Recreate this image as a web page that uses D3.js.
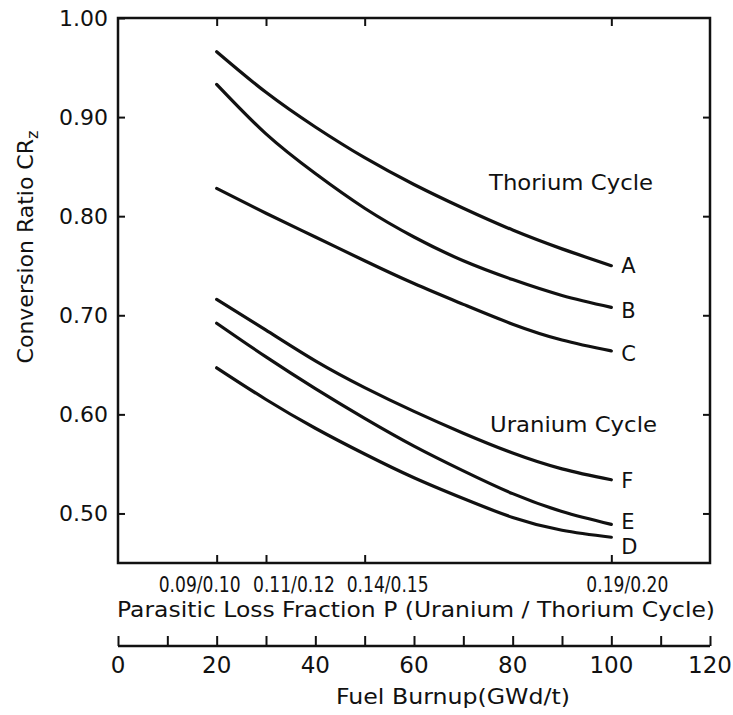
<!DOCTYPE html>
<html>
<head>
<meta charset="utf-8">
<script src="https://cdn.jsdelivr.net/npm/d3@7"></script>
<style>
  body { margin: 0; background: #fff; }
  text { font-family: "DejaVu Sans", sans-serif; fill: #111; }
</style>
</head>
<body>
<svg id="chart" width="733" height="715"></svg>
<script>
// fuel burnup (GWd/t) where the curves were read
const burnup = [20, 30, 40, 50, 60, 70, 80, 90, 100];

// conversion ratio CRz, thorium cycle
const curveA = [0.966, 0.925, 0.890, 0.859, 0.832, 0.808, 0.786, 0.767, 0.750];
const curveB = [0.933, 0.883, 0.843, 0.808, 0.779, 0.755, 0.736, 0.720, 0.708];
const curveC = [0.828, 0.803, 0.779, 0.755, 0.732, 0.711, 0.691, 0.675, 0.664];
// uranium cycle
const curveD = [0.647, 0.615, 0.586, 0.560, 0.536, 0.515, 0.496, 0.483, 0.476];
const curveE = [0.692, 0.658, 0.626, 0.596, 0.568, 0.543, 0.520, 0.502, 0.489];
const curveF = [0.716, 0.685, 0.654, 0.627, 0.603, 0.581, 0.561, 0.545, 0.534];

const curveNames = ["A", "B", "C", "D", "E", "F"];
const curveValues = [curveA, curveB, curveC, curveD, curveE, curveF];

const yTicks = [0.50, 0.60, 0.70, 0.80, 0.90, 1.00];
const burnupTicks = [0, 10, 20, 30, 40, 50, 60, 70, 80, 90, 100, 110, 120];
const burnupLabels = [0, 20, 40, 60, 80, 100, 120];

// parasitic loss fraction ticks sit on burnup positions
const pTickAt = [20, 30, 50, 100];
const pTickLabels = ["0.09/0.10", "0.11/0.12", "0.14/0.15", "0.19/0.20"];

// layout tweaks (hand lettering in the original is shifted to avoid overlap)
const pLabelShift = [-17, 28, 23, 16];
const endLabelShift = { A: 0, B: 3, C: 2, D: 9, E: -3, F: 1 };

const svg = d3.select("#chart");
const plotLeft = 118, plotRight = 710, plotTop = 18, plotBottom = 563;

const x = d3.scaleLinear().domain([0, 120]).range([plotLeft, plotRight]);
const y = d3.scaleLinear().domain([0.45, 1.00]).range([plotBottom, plotTop]);

// frame
svg.append("rect")
    .attr("x", plotLeft).attr("y", plotTop)
    .attr("width", plotRight - plotLeft).attr("height", plotBottom - plotTop)
    .attr("fill", "none").attr("stroke", "#111").attr("stroke-width", 2.5);

function styleAxis(g) {
    g.select(".domain").remove();
    g.selectAll(".tick line").attr("stroke", "#111").attr("stroke-width", 2);
}

// left axis, ticks inward
svg.append("g")
    .attr("transform", `translate(${plotLeft},0)`)
    .call(d3.axisLeft(y).tickValues(yTicks).tickFormat(d3.format(".2f"))
        .tickSize(-7).tickPadding(10))
    .call(styleAxis)
    .call(g => g.selectAll(".tick text")
        .attr("font-size", 22).attr("font-family", "DejaVu Sans").attr("fill", "#111"));

// right axis, ticks inward, no labels
svg.append("g")
    .attr("transform", `translate(${plotRight},0)`)
    .call(d3.axisRight(y).tickValues(yTicks.filter(d => d < 1)).tickFormat("").tickSize(-7))
    .call(styleAxis);

// top and bottom ticks at the P positions
svg.append("g")
    .attr("transform", `translate(0,${plotTop})`)
    .call(d3.axisTop(x).tickValues(pTickAt).tickFormat("").tickSize(-8))
    .call(styleAxis);

svg.append("g")
    .attr("transform", `translate(0,${plotBottom})`)
    .call(d3.axisBottom(x).tickValues(pTickAt).tickFormat("").tickSize(-8))
    .call(styleAxis);

svg.append("g")
    .selectAll("text")
    .data(pTickLabels)
    .join("text")
    .attr("x", (d, i) => x(pTickAt[i]) + pLabelShift[i])
    .attr("y", 592)
    .attr("text-anchor", "middle")
    .attr("font-size", 21)
    .attr("textLength", 82)
    .attr("lengthAdjust", "spacingAndGlyphs")
    .text(d => d);

svg.append("text")
    .attr("x", (plotLeft + plotRight) / 2 + 2)
    .attr("y", 617)
    .attr("text-anchor", "middle")
    .attr("font-size", 22)
    .attr("textLength", 598)
    .attr("lengthAdjust", "spacingAndGlyphs")
    .text("Parasitic Loss Fraction P (Uranium / Thorium Cycle)");

// fuel burnup axis
const burnupY = 646;
svg.append("line")
    .attr("x1", x(0)).attr("x2", x(120))
    .attr("y1", burnupY).attr("y2", burnupY)
    .attr("stroke", "#111").attr("stroke-width", 2.5);

svg.append("g")
    .attr("transform", `translate(0,${burnupY})`)
    .call(d3.axisBottom(x).tickValues(burnupTicks).tickFormat("").tickSize(-10))
    .call(styleAxis);

svg.append("g")
    .selectAll("text")
    .data(burnupLabels)
    .join("text")
    .attr("x", d => x(d))
    .attr("y", 673)
    .attr("text-anchor", "middle")
    .attr("font-size", 23)
    .text(d => d);

svg.append("text")
    .attr("x", 453)
    .attr("y", 704)
    .attr("text-anchor", "middle")
    .attr("font-size", 22)
    .attr("textLength", 234)
    .attr("lengthAdjust", "spacingAndGlyphs")
    .text("Fuel Burnup(GWd/t)");

// y title
const yTitle = svg.append("text")
    .attr("transform", "translate(33,247) rotate(-90)")
    .attr("text-anchor", "middle")
    .attr("font-size", 22);
yTitle.append("tspan").text("Conversion Ratio CR");
yTitle.append("tspan").attr("font-size", 16).attr("dy", 5).text("z");

// curves
const line = d3.line()
    .x(d => x(d[0]))
    .y(d => y(d[1]))
    .curve(d3.curveNatural);

curveValues.forEach((vals, i) => {
    const pts = burnup.map((b, j) => [b, vals[j]]);
    svg.append("path")
        .datum(pts)
        .attr("d", line)
        .attr("fill", "none")
        .attr("stroke", "#111")
        .attr("stroke-width", 3.2)
        .attr("stroke-linecap", "round");

    const name = curveNames[i];
    svg.append("text")
        .attr("x", x(burnup[burnup.length - 1]) + 10)
        .attr("y", y(vals[vals.length - 1]) + endLabelShift[name])
        .attr("dy", "0.36em")
        .attr("font-size", 21)
        .text(name);
});

svg.append("text")
    .attr("x", 489).attr("y", 190)
    .attr("font-size", 21)
    .attr("textLength", 164)
    .attr("lengthAdjust", "spacingAndGlyphs")
    .text("Thorium  Cycle");

svg.append("text")
    .attr("x", 490).attr("y", 432)
    .attr("font-size", 21)
    .attr("textLength", 167)
    .attr("lengthAdjust", "spacingAndGlyphs")
    .text("Uranium Cycle");
</script>
</body>
</html>
